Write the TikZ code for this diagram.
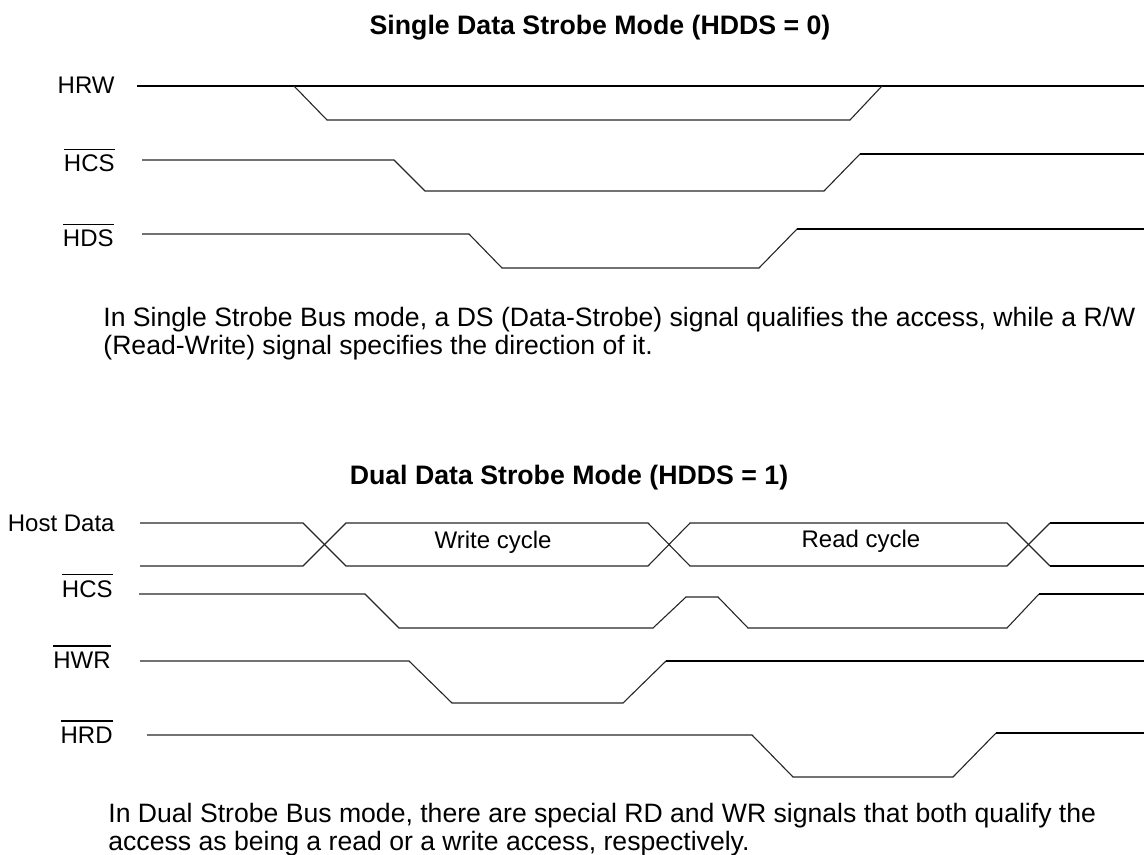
\documentclass[tikz,border=0pt]{standalone}
\usepackage{fontspec}
\setmainfont{Liberation Sans}
\begin{document}
\begin{tikzpicture}[x=0.5pt, y=-0.5pt,
			sottile/.style={line width=0.55pt, black!85, line join=miter},
			spesso/.style={line width=1.1pt, black},
			etich/.style={inner sep=0pt, anchor=base east,
				font=\fontsize{12}{14}\selectfont},
			titolo/.style={inner sep=0pt, anchor=base,
				font=\fontsize{13.35}{15}\selectfont\bfseries},
			testo/.style={inner sep=0pt, anchor=base west,
				font=\fontsize{13.3}{15}\selectfont},
			ciclo/.style={inner sep=0pt, anchor=base,
				font=\fontsize{12}{14}\selectfont}]
			
			\useasboundingbox (0,0) rectangle (1144,855);
			\def\xE{1144}   %% fine delle linee a destra
			%% segnale attivo basso: barra sopra il nome
			\def\nbar#1{\setbox0\hbox{#1}\rlap{\rule[\dimexpr\ht0+2.4pt\relax]{\wd0}{0.9pt}}\box0}
			
			%% --- modo a strobe singolo ---
			\node[titolo] (tit1) at (600,35) {Single Data Strobe Mode (HDDS = 0)};
			
			\node[etich] (hrw) at (115,94) {HRW};
			\draw[spesso] (137,86) -- (\xE,86);
			\draw[sottile] (294,86) -- (327,120) -- (850,120) -- (882,86);
			
			\node[etich] (hcs1) at (115,172) {\nbar{HCS}};
			\draw[sottile] (142,160) -- (394,160) -- (425,191) -- (824,191) -- (860,154);
			\draw[spesso] (860,154) -- (\xE,154);
			
			\node[etich] (hds) at (114,247) {\nbar{HDS}};
			\draw[sottile] (142,234) -- (469,234) -- (502,268) -- (759,268) -- (797,229);
			\draw[spesso] (797,229) -- (\xE,229);
			
			\node[testo] (p1a) at (103,327) {In Single Strobe Bus mode, a DS (Data-Strobe) signal qualifies the access, while a R/W};
			\node[testo] (p1b) at (103,354) {(Read-Write) signal specifies the direction of it.};
			
			%% --- modo a doppio strobe ---
			\node[titolo] (tit2) at (569,484) {Dual Data Strobe Mode (HDDS = 1)};
			
			%% dati: due linee che si incrociano
			\def\yA{523}
			\def\yB{566}
			\node[etich] (hdata) at (115,531) {Host Data};
			\draw[sottile] (140,\yA) -- (303,\yA) -- (346,\yB) -- (648,\yB) -- (690,\yA) -- (1007,\yA) -- (1050,\yB);
			\draw[sottile] (140,\yB) -- (303,\yB) -- (346,\yA) -- (648,\yA) -- (690,\yB) -- (1007,\yB) -- (1050,\yA);
			\draw[spesso] (1050,\yA) -- (\xE,\yA);
			\draw[spesso] (1050,\yB) -- (\xE,\yB);
			\node[ciclo] (wr) at (493,548) {Write cycle};
			\node[ciclo] (rd) at (861,547) {Read cycle};
			
			\node[etich] (hcs2) at (113,597) {\nbar{HCS}};
			\draw[sottile] (139,594) -- (365,594) -- (399,628) -- (653,628) -- (686,597)
				-- (718,597) -- (748,628) -- (1007,628) -- (1039,594);
			\draw[spesso] (1039,594) -- (\xE,594);
			
			\node[etich] (hwr) at (111,668) {\nbar{HWR}};
			\draw[sottile] (140,661) -- (409,661) -- (452,703) -- (623,703) -- (666,661);
			\draw[spesso] (666,661) -- (\xE,661);
			
			\node[etich] (hrd) at (113,743) {\nbar{HRD}};
			\draw[sottile] (147,735) -- (752,735) -- (793,777) -- (953,777) -- (996,733);
			\draw[spesso] (996,733) -- (\xE,733);
			
			\node[testo] (p2a) at (108,822) {In Dual Strobe Bus mode, there are special RD and WR signals that both qualify the};
			\node[testo] (p2b) at (108,850) {access as being a read or a write access, respectively.};
			
		\end{tikzpicture}
\end{document}
